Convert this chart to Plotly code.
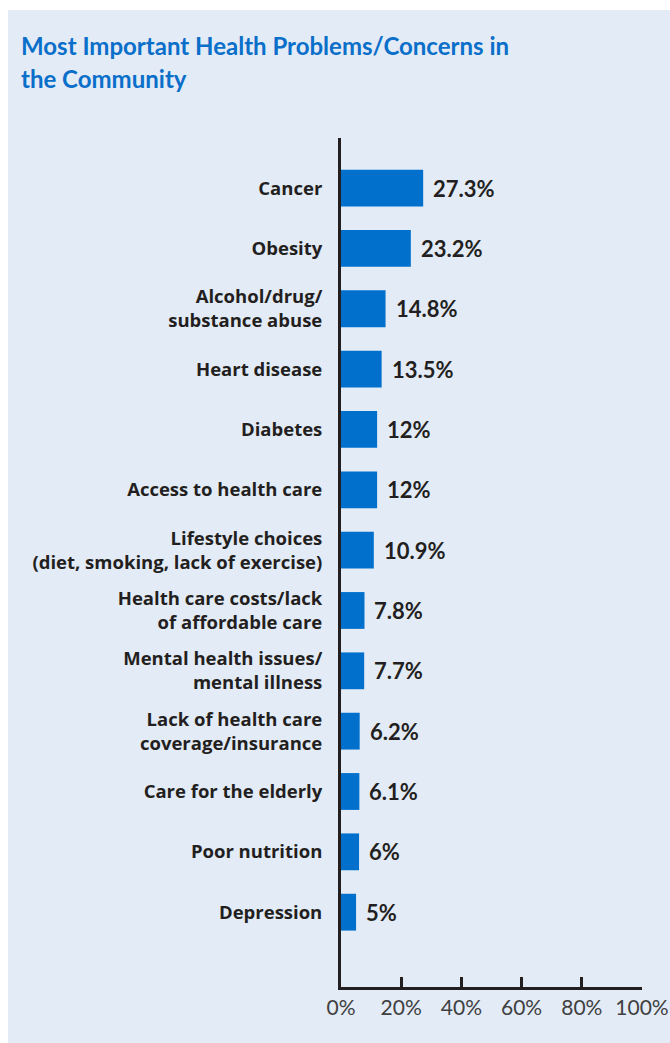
import plotly.graph_objects as go

# Survey results: share of respondents naming each concern
categories = [
    "Cancer",
    "Obesity",
    "Alcohol/drug/<br>substance abuse",
    "Heart disease",
    "Diabetes",
    "Access to health care",
    "Lifestyle choices<br>(diet, smoking, lack of exercise)",
    "Health care costs/lack<br>of affordable care",
    "Mental health issues/<br>mental illness",
    "Lack of health care<br>coverage/insurance",
    "Care for the elderly",
    "Poor nutrition",
    "Depression",
]
values = [27.3, 23.2, 14.8, 13.5, 12, 12, 10.9, 7.8, 7.7, 6.2, 6.1, 6, 5]
value_labels = ["27.3%", "23.2%", "14.8%", "13.5%", "12%", "12%", "10.9%",
                "7.8%", "7.7%", "6.2%", "6.1%", "6%", "5%"]
tick_vals = [0, 20, 40, 60, 80, 100]
tick_text = ["0%", "20%", "40%", "60%", "80%", "100%"]

W, H = 670, 1043
ML, MR, MT, MB = 341, 28, 138, 56
PW, PH = W - ML - MR, H - MT - MB

BLUE = "#0070cc"
PANEL = "#e3ebf7"
INK = "#231f20"

positions = list(range(len(categories)))

fig = go.Figure()
fig.add_trace(go.Bar(
    x=values,
    y=positions,
    orientation="h",
    width=0.61,
    marker=dict(color=BLUE, line=dict(width=0)),
    hoverinfo="skip",
))

# value labels just right of each bar
for pos, val, lab in zip(positions, values, value_labels):
    fig.add_annotation(
        x=val, y=pos, text=lab, xref="x", yref="y",
        xanchor="left", yanchor="middle", xshift=8, yshift=0,
        showarrow=False,
        font=dict(family="Lato", size=22, color=INK, weight="bold"),
    )


def px_to_paper_x(px):
    return (px - ML) / PW


def px_to_paper_y(py):
    return (H - MB - py) / PH


# light panel behind everything
fig.add_shape(
    type="rect", xref="paper", yref="paper", layer="below",
    x0=px_to_paper_x(8), x1=px_to_paper_x(W + 2),
    y0=px_to_paper_y(H + 2), y1=px_to_paper_y(10),
    fillcolor=PANEL, line=dict(width=0),
)

# title, two lines
for txt, base in [("Most Important Health Problems/Concerns in", 57),
                  ("the Community", 90)]:
    fig.add_annotation(
        text=txt, xref="paper", yref="paper",
        x=px_to_paper_x(19), y=px_to_paper_y(base + 5),
        xanchor="left", yanchor="bottom", showarrow=False,
        font=dict(family="Lato", size=24, color="#0a6fc9", weight="bold"),
    )

fig.update_layout(
    width=W, height=H,
    margin=dict(l=ML, r=MR, t=MT, b=MB, pad=0),
    paper_bgcolor="white",
    plot_bgcolor="rgba(0,0,0,0)",
    showlegend=False,
    xaxis=dict(
        range=[0, 100], tickvals=tick_vals, ticktext=tick_text,
        showgrid=False, zeroline=False, automargin=False,
        showline=True, linecolor=INK, linewidth=3,
        ticks="inside", ticklen=10, tickwidth=2.5, tickcolor=INK,
        tickfont=dict(family="Lato", size=21, color="#404040"),
        fixedrange=True,
    ),
    yaxis=dict(
        range=[12 + 1.24, -0.83],
        tickvals=positions, ticktext=categories,
        showgrid=False, zeroline=False, automargin=False,
        showline=True, linecolor=INK, linewidth=3,
        ticks="", ticklabelstandoff=12,
        tickfont=dict(family="Open Sans", size=18.5, color=INK, weight="bold"),
        fixedrange=True,
    ),
)

fig.write_html("out.html")
